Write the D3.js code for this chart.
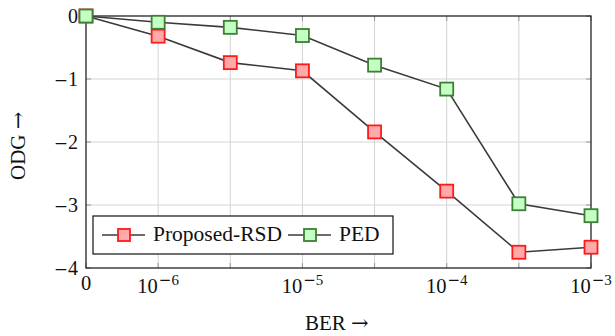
<!DOCTYPE html>
<html>
<head>
<meta charset="utf-8">
<script src="https://cdn.jsdelivr.net/npm/d3@7"></script>
<style>
  body { margin: 0; background: #fff; }
</style>
</head>
<body>
<div class="chart"></div>
<script>
// BER steps (evenly spaced on the x axis)
const berSteps = ['0', '1e-6', '3e-6', '1e-5', '3e-5', '1e-4', '3e-4', '1e-3']
const proposedRSD = [0, -0.32, -0.74, -0.87, -1.84, -2.78, -3.75, -3.67]
const ped = [0, -0.1, -0.18, -0.31, -0.78, -1.16, -2.98, -3.17]
const yTicks = [0, -1, -2, -3, -4]
// labelled x ticks: [base, exponent digit]
const xTickLabels = {'0': ['0', ''], '1e-6': ['10', '6'], '1e-5': ['10', '5'], '1e-4': ['10', '4'], '1e-3': ['10', '3']}

let width = 615
let height = 336
const margin = {top: 16, right: 24, bottom: 68, left: 86}
const graphWidth = width - margin.left - margin.right
const graphHeight = height - margin.top - margin.bottom
const serif = '"Liberation Serif", "Times New Roman", serif'

let svg = d3.select('.chart')
  .append('svg')
  .attr('width', width)
  .attr('height', height)
  .attr('font-family', serif)
  .attr('fill', '#111')

const graph = svg.append('g')
  .attr('transform', `translate(${margin.left}, ${margin.top})`)

let xScale = d3.scalePoint()
  .domain(berSteps)
  .range([0, graphWidth])

let yScale = d3.scaleLinear()
  .domain([-4, 0])
  .range([graphHeight, 0])

// grid
graph.append('g').selectAll('line')
  .data(berSteps.slice(1, -1))
  .enter().append('line')
  .attr('x1', d => xScale(d)).attr('x2', d => xScale(d))
  .attr('y1', 0).attr('y2', graphHeight)
  .attr('stroke', '#d4d4d4').attr('stroke-width', 1)

graph.append('g').selectAll('line')
  .data(yTicks.slice(1, -1))
  .enter().append('line')
  .attr('x1', 0).attr('x2', graphWidth)
  .attr('y1', d => yScale(d)).attr('y2', d => yScale(d))
  .attr('stroke', '#d4d4d4').attr('stroke-width', 1)

// inward ticks on all sides
const tickLen = 5
const ticks = graph.append('g').attr('stroke', '#999').attr('stroke-width', 1)
berSteps.forEach(d => {
  ticks.append('line').attr('x1', xScale(d)).attr('x2', xScale(d)).attr('y1', 0).attr('y2', tickLen)
  ticks.append('line').attr('x1', xScale(d)).attr('x2', xScale(d)).attr('y1', graphHeight).attr('y2', graphHeight - tickLen)
})
yTicks.forEach(d => {
  ticks.append('line').attr('x1', 0).attr('x2', tickLen).attr('y1', yScale(d)).attr('y2', yScale(d))
  ticks.append('line').attr('x1', graphWidth).attr('x2', graphWidth - tickLen).attr('y1', yScale(d)).attr('y2', yScale(d))
})

// frame
graph.append('rect')
  .attr('width', graphWidth).attr('height', graphHeight)
  .attr('fill', 'none').attr('stroke', '#111').attr('stroke-width', 1.2)

// y tick labels (wide math minus like the TeX original)
const yl = graph.append('g').selectAll('text')
  .data(yTicks)
  .enter().append('text')
  .attr('x', -8)
  .attr('y', d => yScale(d))
  .attr('dy', '.33em')
  .attr('text-anchor', 'end')
  .attr('font-size', '20px')
yl.filter(d => d < 0).append('tspan')
  .attr('font-family', 'DejaVu Serif')
  .attr('font-size', '17px')
  .text('−')
yl.append('tspan').text(d => Math.abs(d))

// x tick labels
const xl = graph.append('g').selectAll('text')
  .data(berSteps.filter(d => xTickLabels[d]))
  .enter().append('text')
  .attr('x', d => xScale(d))
  .attr('y', d => d === '0' ? graphHeight + 22 : graphHeight + 25)
  .attr('text-anchor', 'middle')
  .attr('font-size', '20.5px')
xl.append('tspan').text(d => xTickLabels[d][0])
xl.filter(d => d !== '0').append('tspan')
  .attr('dy', -8)
  .attr('dx', 1)
  .attr('font-family', 'DejaVu Serif')
  .attr('font-size', '15px')
  .text('−')
xl.filter(d => d !== '0').append('tspan')
  .attr('font-size', '15px')
  .text(d => xTickLabels[d][1])

// axis titles
const xTitle = svg.append('text')
  .attr('x', 305)
  .attr('y', 330)
  .attr('font-size', '21px')
xTitle.append('tspan').text('BER ')
xTitle.append('tspan').attr('font-family', 'DejaVu Serif').attr('font-size', '21px').text('→')

const yTitle = svg.append('text')
  .attr('transform', `translate(25, 180) rotate(-90)`)
  .attr('font-size', '21px')
yTitle.append('tspan').text('ODG ')
yTitle.append('tspan').attr('font-family', 'DejaVu Serif').attr('font-size', '21px').text('→')

// series
const series = [
  {name: 'Proposed-RSD', values: proposedRSD, fill: '#ffaaaa', stroke: '#ff1a1a'},
  {name: 'PED', values: ped, fill: '#c4ffc4', stroke: '#3d7f35'}
]

const line = d3.line()
  .x((d, i) => xScale(berSteps[i]))
  .y(d => yScale(d))

const mk = 13
series.forEach(s => {
  graph.append('path')
    .datum(s.values)
    .attr('d', line)
    .attr('fill', 'none')
    .attr('stroke', '#3a3a3a')
    .attr('stroke-width', 1.6)
  graph.append('g').selectAll('rect')
    .data(s.values)
    .enter().append('rect')
    .attr('x', (d, i) => xScale(berSteps[i]) - mk / 2)
    .attr('y', d => yScale(d) - mk / 2)
    .attr('width', mk).attr('height', mk)
    .attr('fill', s.fill)
    .attr('stroke', s.stroke)
    .attr('stroke-width', 1.8)
})

// legend
const legend = svg.append('g').attr('transform', 'translate(93, 216)')
legend.append('rect')
  .attr('width', 300).attr('height', 38)
  .attr('fill', '#fff').attr('stroke', '#111').attr('stroke-width', 1.2)

const legendX = [9, 195]
const lmk = 12
series.forEach((s, i) => {
  const g = legend.append('g').attr('transform', `translate(${legendX[i]}, 19)`)
  g.append('line').attr('x1', 0).attr('x2', 43).attr('y1', 0).attr('y2', 0)
    .attr('stroke', '#3a3a3a').attr('stroke-width', 1.6)
  g.append('rect')
    .attr('x', 22 - lmk / 2).attr('y', -lmk / 2)
    .attr('width', lmk).attr('height', lmk)
    .attr('fill', s.fill).attr('stroke', s.stroke).attr('stroke-width', 1.8)
  g.append('text')
    .attr('x', 51).attr('dy', '.3em')
    .attr('font-size', '21.5px')
    .text(s.name)
})
</script>
</body>
</html>
